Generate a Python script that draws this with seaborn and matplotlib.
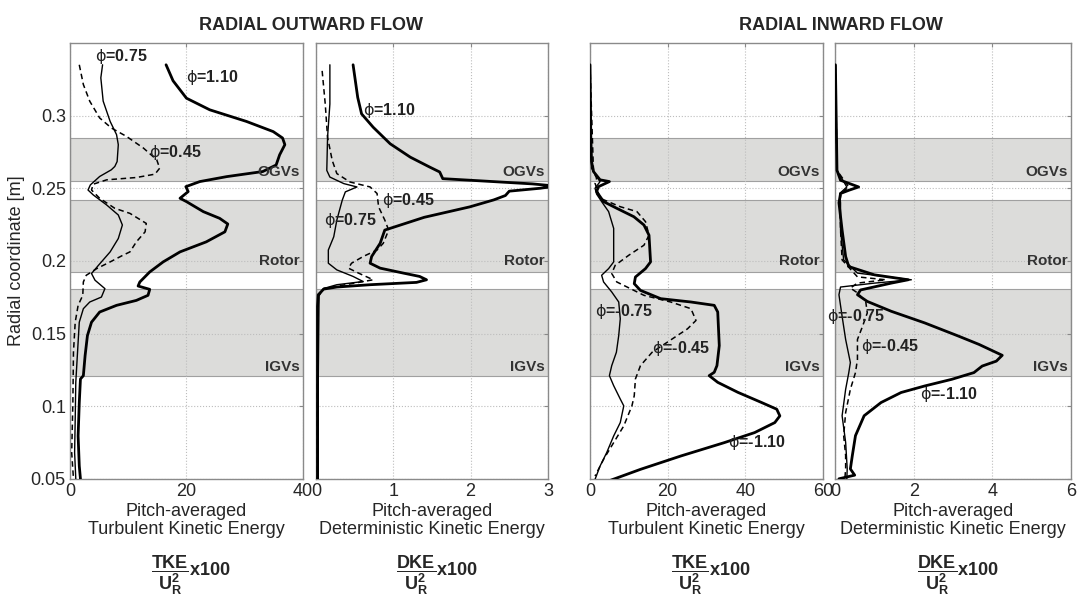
import numpy as np
import pandas as pd
import seaborn as sns
import matplotlib.pyplot as plt
from matplotlib.ticker import FormatStrFormatter

# radial outward flow - turbulent kinetic energy (x100)
r_out_tke_110 = [0.335, 0.324, 0.312, 0.304, 0.296, 0.289, 0.2846, 0.280, 0.273, 0.266, 0.2615, 0.258,
                 0.2546, 0.2511, 0.2477, 0.2431, 0.2408, 0.2339, 0.2293, 0.2254, 0.220, 0.2131, 0.2062,
                 0.1993, 0.1924, 0.1855, 0.1827, 0.1804, 0.1763, 0.1728, 0.1694, 0.1648, 0.1578, 0.1486,
                 0.1348, 0.121, 0.1187, 0.1025, 0.0795, 0.0588, 0.05]
out_tke_110 = [16.5, 17.7, 20.0, 24.0, 30.3, 34.9, 36.5, 36.9, 36.0, 35.4, 33.1, 26.9, 22.3, 19.9, 20.3,
               18.9, 20.0, 22.9, 25.7, 27.1, 26.6, 23.4, 18.9, 16.0, 13.7, 12.0, 11.7, 13.7, 13.4, 11.4,
               8.0, 5.1, 3.7, 3.0, 2.6, 2.3, 1.8, 1.6, 1.4, 1.6, 1.8]
r_out_tke_075 = [0.335, 0.326, 0.310, 0.296, 0.2869, 0.280, 0.2684, 0.265, 0.2627, 0.2581, 0.2523, 0.2488,
                 0.2454, 0.2385, 0.2316, 0.2247, 0.2154, 0.2062, 0.197, 0.1913, 0.1867, 0.1809, 0.1751,
                 0.1717, 0.1671, 0.1578, 0.1371, 0.1164, 0.091, 0.068, 0.05]
out_tke_075 = [5.6, 5.3, 5.7, 6.9, 8.0, 8.3, 8.1, 7.7, 7.1, 5.1, 3.5, 3.1, 4.0, 6.3, 8.3, 9.0, 8.3, 6.9,
               4.9, 3.7, 4.3, 6.0, 5.4, 3.4, 2.3, 1.6, 1.3, 1.0, 0.9, 0.8, 1.0]
r_out_tke_045 = [0.335, 0.3214, 0.3099, 0.2984, 0.2915, 0.2857, 0.2777, 0.2696, 0.2638, 0.2597, 0.2574,
                 0.2558, 0.2528, 0.2488, 0.2431, 0.2362, 0.2327, 0.2258, 0.22, 0.2131, 0.2062, 0.2039,
                 0.1993, 0.1947, 0.1901, 0.1855, 0.1763, 0.1694, 0.1578, 0.1371, 0.1025, 0.068, 0.05]
out_tke_045 = [1.6, 2.3, 3.4, 5.1, 7.1, 9.7, 12.6, 14.9, 15.4, 14.6, 11.4, 6.3, 4.0, 3.7, 5.1, 7.7, 10.3,
               13.1, 12.9, 11.4, 10.3, 9.1, 6.9, 4.6, 2.8, 2.3, 2.2, 1.4, 0.9, 0.6, 0.5, 0.3, 0.6]

# radial outward flow - deterministic kinetic energy (x100)
r_out_dke_110 = [0.335, 0.3125, 0.3012, 0.292, 0.2806, 0.2714, 0.2646, 0.2612, 0.2566, 0.2555, 0.2530,
                 0.2515, 0.2500, 0.2480, 0.2450, 0.2420, 0.2372, 0.2300, 0.2212, 0.2121, 0.203, 0.1984,
                 0.195, 0.1916, 0.1893, 0.187, 0.1852, 0.1836, 0.182, 0.1806, 0.1767, 0.1687, 0.12, 0.05]
out_dke_110 = [0.48, 0.54, 0.59, 0.74, 0.96, 1.22, 1.47, 1.60, 1.64, 2.0, 2.8, 3.1, 2.9, 2.5, 2.45, 2.3,
               1.99, 1.4, 0.89, 0.83, 0.72, 0.70, 0.83, 1.13, 1.34, 1.43, 1.30, 0.70, 0.27, 0.10, 0.03,
               0.02, 0.02, 0.02]
r_out_dke_075 = [0.335, 0.308, 0.2851, 0.2623, 0.2577, 0.2532, 0.2509, 0.2475, 0.2418, 0.2281, 0.2166,
                 0.2075, 0.1984, 0.1938, 0.1893, 0.1858, 0.1836, 0.181, 0.176, 0.12, 0.05]
out_dke_075 = [0.18, 0.18, 0.15, 0.14, 0.18, 0.36, 0.53, 0.38, 0.34, 0.27, 0.23, 0.16, 0.16, 0.27, 0.48,
               0.61, 0.27, 0.10, 0.04, 0.03, 0.03]
r_out_dke_045 = [0.3308, 0.308, 0.2851, 0.2692, 0.2601, 0.2543, 0.2509, 0.2464, 0.2372, 0.2281, 0.2212,
                 0.2121, 0.2075, 0.203, 0.1984, 0.195, 0.1916, 0.187, 0.1847, 0.181, 0.176, 0.12, 0.05]
out_dke_045 = [0.08, 0.12, 0.15, 0.21, 0.27, 0.44, 0.70, 0.79, 0.81, 0.89, 0.94, 0.87, 0.79, 0.61, 0.46,
               0.42, 0.55, 0.74, 0.50, 0.10, 0.03, 0.02, 0.02]

# radial inward flow - turbulent kinetic energy (x100)
r_in_tke_110 = [0.335, 0.2869, 0.2684, 0.2615, 0.2558, 0.2546, 0.2511, 0.2477, 0.2408, 0.2362, 0.2304,
                0.2247, 0.2177, 0.2085, 0.1993, 0.1947, 0.1889, 0.1843, 0.1797, 0.174, 0.1717, 0.1694,
                0.1648, 0.1532, 0.1417, 0.1279, 0.1233, 0.121, 0.1164, 0.1095, 0.1025, 0.0979, 0.0933,
                0.0887, 0.0818, 0.0749, 0.0657, 0.0565, 0.0485]
in_tke_110 = [0.0, 0.2, 0.4, 0.9, 2.6, 5.0, 2.2, 1.7, 3.5, 6.9, 11.3, 13.9, 15.2, 15.4, 15.6, 14.3, 11.7,
              11.4, 13.0, 18.2, 26.0, 32.0, 32.9, 33.1, 33.3, 32.7, 32.0, 30.7, 32.9, 38.1, 44.2, 48.1,
              48.9, 47.6, 42.4, 34.6, 23.4, 13.0, 4.8]
r_in_tke_075 = [0.335, 0.2638, 0.258, 0.2546, 0.25, 0.246, 0.2408, 0.2339, 0.2224, 0.2062, 0.1993, 0.1947,
                0.1901, 0.1855, 0.1786, 0.1717, 0.1601, 0.1486, 0.1371, 0.1279, 0.121, 0.1141, 0.1049,
                0.1002, 0.0887, 0.0795, 0.068, 0.0588, 0.0496]
in_tke_075 = [0.0, 0.4, 1.7, 2.6, 1.3, 1.7, 3.0, 4.8, 6.1, 6.1, 6.1, 4.8, 3.0, 3.5, 5.6, 7.4, 7.8, 7.4,
              6.8, 5.6, 5.0, 6.1, 7.8, 8.7, 7.8, 6.1, 4.3, 2.6, 1.3]
r_in_tke_045 = [0.335, 0.2615, 0.2569, 0.2535, 0.2431, 0.2373, 0.2339, 0.227, 0.2177, 0.2108, 0.2039,
                0.197, 0.1913, 0.1855, 0.1763, 0.1717, 0.1671, 0.159, 0.1532, 0.144, 0.1371, 0.1279,
                0.1187, 0.1072, 0.1002, 0.0864, 0.0749, 0.0634, 0.0519]
in_tke_045 = [0.0, 0.9, 1.7, 1.3, 2.6, 7.8, 12.1, 14.3, 15.2, 13.9, 10.0, 6.5, 5.6, 6.9, 13.9, 20.8, 26.0,
              27.3, 25.1, 19.9, 16.0, 13.0, 11.7, 11.4, 10.8, 8.7, 6.1, 3.5, 1.3]

# radial inward flow - deterministic kinetic energy (x100)
r_in_dke_110 = [0.335, 0.2623, 0.2555, 0.2509, 0.2486, 0.2464, 0.24, 0.2212, 0.203, 0.1961, 0.1904,
                0.187, 0.1847, 0.18, 0.1767, 0.1721, 0.1653, 0.1573, 0.1482, 0.1425, 0.135, 0.1310,
                0.1276, 0.1231, 0.1185, 0.1139, 0.1094, 0.1025, 0.0934, 0.0797, 0.066, 0.0568, 0.0525,
                0.050]
in_dke_110 = [0.01, 0.05, 0.14, 0.60, 0.35, 0.14, 0.10, 0.18, 0.27, 0.35, 1.0, 1.86, 1.43, 0.65, 0.57,
              0.82, 1.43, 2.28, 3.14, 3.66, 4.25, 4.1, 3.74, 3.53, 2.97, 2.28, 1.68, 1.17, 0.74, 0.52,
              0.44, 0.39, 0.5, 0.1]
r_in_dke_075 = [0.335, 0.2623, 0.2509, 0.2464, 0.24, 0.2212, 0.2007, 0.1916, 0.187, 0.1847, 0.182,
                0.1767, 0.1619, 0.1459, 0.13, 0.1231, 0.1116, 0.0934, 0.0751, 0.0568, 0.05]
in_dke_075 = [0.01, 0.05, 0.3, 0.12, 0.14, 0.14, 0.22, 0.57, 1.94, 1.0, 0.14, 0.10, 0.18, 0.27, 0.39,
              0.35, 0.27, 0.18, 0.27, 0.31, 0.3]
r_in_dke_045 = [0.335, 0.2623, 0.2509, 0.2464, 0.24, 0.2212, 0.2007, 0.189, 0.187, 0.1847, 0.1813, 0.178,
                0.1721, 0.1642, 0.155, 0.1459, 0.1322, 0.1231, 0.1116, 0.0956, 0.0797, 0.066, 0.0568,
                0.05]
in_dke_045 = [0.01, 0.05, 0.35, 0.15, 0.12, 0.14, 0.18, 0.57, 1.29, 0.57, 0.39, 0.57, 0.78, 0.82, 0.70,
              0.57, 0.57, 0.52, 0.39, 0.27, 0.22, 0.27, 0.27, 0.25]

# blade rows (radial extent of shaded bands)
bands = [('OGVs', 0.2551, 0.2846), ('Rotor', 0.1924, 0.2419), ('IGVs', 0.1205, 0.1804)]
band_label_r = {'OGVs': 0.2612, 'Rotor': 0.2, 'IGVs': 0.1267}

xlims = [40, 3, 60, 6]
xticks = [[0, 20, 40], [0, 1, 2, 3], [0, 20, 40, 60], [0, 2, 4, 6]]
yticks = [0.05, 0.1, 0.15, 0.2, 0.25, 0.3]
xlabels = ['Pitch-averaged\nTurbulent Kinetic Energy', 'Pitch-averaged\nDeterministic Kinetic Energy'] * 2
fraclabels = [r'$\dfrac{\mathbf{TKE}}{\mathbf{U_R^2}}$x100', r'$\dfrac{\mathbf{DKE}}{\mathbf{U_R^2}}$x100'] * 2

curves = [
    [(out_tke_110, r_out_tke_110, 2.0, '-'), (out_tke_075, r_out_tke_075, 1.0, '-'), (out_tke_045, r_out_tke_045, 1.1, '--')],
    [(out_dke_110, r_out_dke_110, 2.0, '-'), (out_dke_075, r_out_dke_075, 1.0, '-'), (out_dke_045, r_out_dke_045, 1.1, '--')],
    [(in_tke_110, r_in_tke_110, 2.0, '-'), (in_tke_075, r_in_tke_075, 1.0, '-'), (in_tke_045, r_in_tke_045, 1.1, '--')],
    [(in_dke_110, r_in_dke_110, 2.0, '-'), (in_dke_075, r_in_dke_075, 1.0, '-'), (in_dke_045, r_in_dke_045, 1.1, '--')],
]

# phi labels: (text, x, r)
phi_labels = [
    [('0.75', 4.3, 0.341), ('1.10', 20.0, 0.3262), ('0.45', 13.6, 0.2749)],
    [('1.10', 0.61, 0.3034), ('0.45', 0.85, 0.2418), ('0.75', 0.10, 0.228)],
    [('-0.75', 1.3, 0.1655), ('-0.45', 16.0, 0.1394), ('-1.10', 35.5, 0.0749)],
    [('-0.75', -0.2, 0.1614), ('-0.45', 0.65, 0.1413), ('-1.10', 2.15, 0.1082)],
]

sns.set_style('white')
plt.rcParams['font.family'] = ['Liberation Sans', 'DejaVu Sans']
plt.rcParams['mathtext.fontset'] = 'custom'
plt.rcParams['mathtext.rm'] = 'DejaVu Sans'
plt.rcParams['mathtext.it'] = 'DejaVu Sans'
plt.rcParams['mathtext.bf'] = 'Liberation Sans:bold'
plt.rcParams['lines.dashed_pattern'] = [3.6, 2.4]

fig = plt.figure(figsize=(10.78, 5.97), dpi=100)
lefts = [0.0649, 0.2931, 0.5473, 0.7746]
widths = [0.2161, 0.2152, 0.2161, 0.2190]

for i in range(4):
    ax = fig.add_axes([lefts[i], 0.198, widths[i], 0.730])
    ax.set_axisbelow('line')
    for name, lo, hi in bands:
        ax.axhspan(lo, hi, facecolor='#dcdcda', edgecolor='#a0a0a0', lw=0.8, zorder=1)
        ax.text(0.985, band_label_r[name], name, transform=ax.get_yaxis_transform(),
                ha='right', va='center', fontsize=11, fontweight='bold', color='#333333', zorder=4)
    for xv, rv, lw, ls in curves[i]:
        sns.lineplot(x=xv, y=rv, sort=False, estimator=None, color='black', linewidth=lw,
                     linestyle=ls, ax=ax, zorder=3)
    for txt, xx, rr in phi_labels[i]:
        ax.text(xx, rr, r'$\phi$=' + txt, fontsize=11.5, fontweight='bold', color='#222222',
                ha='left', va='center', zorder=5)

    ax.set_xlim(0, xlims[i])
    ax.set_ylim(0.05, 0.35)
    ax.set_xticks(xticks[i])
    ax.set_yticks(yticks)
    ax.yaxis.set_major_formatter(FormatStrFormatter('%g'))
    ax.grid(True, linestyle=':', color='#bdbdbd', linewidth=0.8)
    ax.tick_params(direction='in', length=3, color='#888888', labelsize=13, pad=3,
                   top=True, right=True)
    for sp in ax.spines.values():
        sp.set_color('#8a8a8a')
        sp.set_linewidth(1.0)
    ax.set_xlabel(xlabels[i], fontsize=13, linespacing=1.1, labelpad=2)
    if i == 0:
        ax.set_ylabel('Radial coordinate [m]', fontsize=13, labelpad=4)
    else:
        ax.set_ylabel('')
        ax.tick_params(labelleft=False)
    ax.text(0.52, -0.222, fraclabels[i], transform=ax.transAxes, ha='center', va='center',
            fontsize=13, fontweight='bold')

fig.text(0.2885, 0.958, 'RADIAL OUTWARD FLOW', ha='center', va='center', fontsize=13, fontweight='bold')
fig.text(0.780, 0.958, 'RADIAL INWARD FLOW', ha='center', va='center', fontsize=13, fontweight='bold')

fig.savefig('out.png', dpi=100)
